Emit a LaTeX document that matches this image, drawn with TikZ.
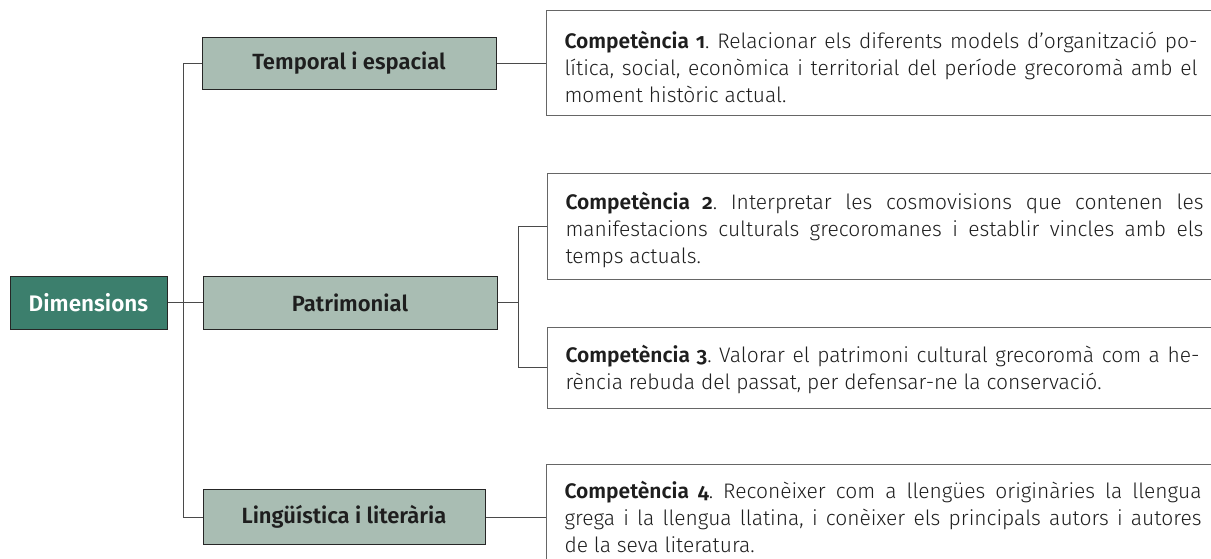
\documentclass[tikz,border=0pt]{standalone}
\usepackage{fontspec}
\setmainfont{Fira Sans Light}[BoldFont={Fira Sans SemiBold}, Numbers=OldStyle]
\definecolor{dimgreen}{HTML}{3C7F6D}
\definecolor{midgreen}{HTML}{A9BDB3}
\definecolor{linegray}{HTML}{4A4A4A}
\definecolor{boxgray}{HTML}{666666}
\definecolor{txt}{HTML}{1E1E1E}
\newcommand{\topraise}[1]{\rule{0pt}{#1}}
\tikzset{
  dimbox/.style={draw=black!85, line width=1pt, fill=dimgreen, text=white, font=\fontsize{22.5}{26}\selectfont\bfseries, minimum width=157, minimum height=53, inner sep=0pt},
  midbox/.style={draw=black!85, line width=1pt, fill=midgreen, text=txt, font=\fontsize{22}{26}\selectfont\bfseries, inner sep=0pt},
  compbox/.style={draw=boxgray, line width=1pt, fill=white, text=txt, anchor=west, align=justify, inner xsep=18pt, inner ysep=0pt, font=\fontsize{21}{27}\selectfont\frenchspacing},
  conn/.style={draw=linegray, line width=1pt}
}
\begin{document}
\begin{tikzpicture}[x=1pt,y=-1pt]
\useasboundingbox (0,0) rectangle (1211,559);
\clip (0,0) rectangle (1211,559);

\node[dimbox] (dim) at (88.5,302.5) {Dimensions};
\node[midbox, minimum width=294, minimum height=52] (temp) at (349,63.5) {Temporal i espacial};
\node[midbox, minimum width=294, minimum height=53] (patr) at (350,302.5) {Patrimonial};
\node[midbox, minimum width=282, minimum height=55] (ling) at (344,517) {Lingüística i literària};

\node[compbox, text width=633, minimum height=105] (c1) at (546,63.5) {\topraise{25pt}\textbf{Competència 1}. Relacionar els diferents models d’organització po-\linebreak lítica, social, econòmica i territorial del període grecoromà amb el\linebreak moment històric actual.\par};
\node[compbox, text width=638, minimum height=105] (c2) at (547,226.5) {\topraise{25pt}\textbf{Competència 2}. Interpretar les cosmovisions que contenen les\linebreak manifestacions culturals grecoromanes i establir vincles amb els\linebreak temps actuals.\par};
\node[compbox, text width=634, minimum height=81] (c3) at (547,367.5) {\topraise{21pt}\textbf{Competència 3}. Valorar el patrimoni cultural grecoromà com a he-\linebreak rència rebuda del passat, per defensar-ne la conservació.\par};
\node[compbox, text width=637, minimum height=105] (c4) at (546,517) {\textbf{Competència 4}. Reconèixer com a llengües originàries la llengua\linebreak grega i la llengua llatina, i conèixer els principals autors i autores\linebreak de la seva literatura.\par};

\draw[conn] (temp.west) -- ++(-18,0) |- (ling.west);
\draw[conn] (dim.east) -- (patr.west);
\draw[conn] (temp.east) -- (c1.west);
\draw[conn] (patr.east) -- ++(21,0) coordinate (br);
\draw[conn] (c2.west) -- ++(-29,0) |- (c3.west);
\draw[conn] (ling.east) -- (c4.west);
\end{tikzpicture}
\end{document}
